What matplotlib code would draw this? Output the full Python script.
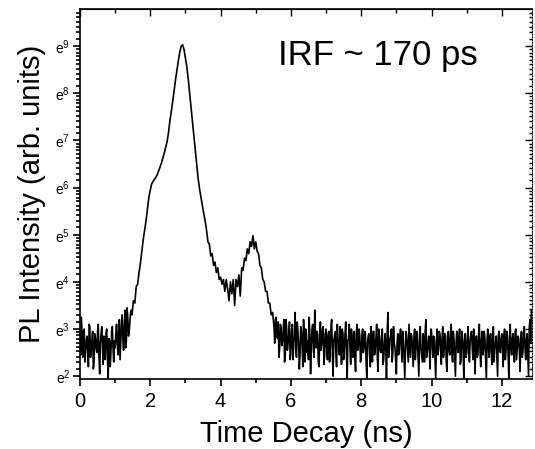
import numpy as np
import matplotlib
matplotlib.use("Agg")
import matplotlib.pyplot as plt
from matplotlib.ticker import LogLocator, FixedLocator, MultipleLocator, NullFormatter

plt.rcParams['font.family'] = ['Liberation Sans', 'DejaVu Sans']
plt.rcParams['mathtext.fontset'] = 'custom'
plt.rcParams['mathtext.rm'] = 'Liberation Sans'
plt.rcParams['mathtext.it'] = 'Liberation Sans'

# time axis step (ns) and ln(PL intensity), one row per ns
t_step = 0.04
ln_pl = [
    # 0 - 1 ns
    2.9, 3.25, 2.4, 3.0, 2.5, 2.85, 2.2, 3.05, 2.6, 2.95, 2.3, 2.8, 2.5, 3.1, 2.05, 2.9, 2.6, 2.85, 2.35, 3.0, 1.9, 2.75, 2.5, 3.05, 2.3,
    # 1 - 2 ns
    2.6, 3.1, 2.45, 3.2, 2.7, 3.3, 2.55, 3.4, 2.75, 3.25, 2.95, 3.35, 3.3, 3.6, 3.55, 3.9, 3.95, 4.2, 4.4, 4.65, 4.9, 5.1, 5.3, 5.55, 5.8,
    # 2 - 3 ns
    5.95, 6.08, 6.13, 6.18, 6.22, 6.28, 6.36, 6.44, 6.53, 6.63, 6.74, 6.86, 6.98, 7.18, 7.42, 7.63, 7.84, 8.07, 8.3, 8.5, 8.7, 8.88, 9.0, 9.03, 8.93,
    # 3 - 4 ns
    8.75, 8.56, 8.3, 8.0, 7.68, 7.38, 7.08, 6.78, 6.48, 6.2, 5.98, 5.8, 5.62, 5.45, 5.3, 5.1, 4.85, 4.8, 4.55, 4.6, 4.35, 4.42, 4.2, 4.3, 4.05,
    # 4 - 5 ns
    4.1, 3.95, 4.05, 3.8, 4.05, 3.85, 3.6, 4.0, 3.75, 4.05, 3.5, 4.05, 3.9, 4.15, 3.7, 4.3, 4.25, 4.5, 4.45, 4.7, 4.6, 4.85, 4.75, 4.98, 4.7,
    # 5 - 6 ns
    4.85, 4.65, 4.6, 4.35, 4.3, 4.05, 4.0, 3.8, 3.8, 3.55, 3.55, 3.3, 3.35, 3.05, 3.2, 2.85, 3.15, 2.6, 3.05, 2.75, 3.2, 2.45, 3.0, 2.7, 3.15,
    # 6 - 7 ns
    2.5, 3.1, 2.7, 3.35, 2.4, 2.95, 2.15, 3.05, 2.65, 3.2, 2.3, 2.9, 2.75, 3.25, 2.05, 3.0, 2.55, 3.4, 2.6, 2.9, 2.2, 3.15, 2.7, 3.05, 2.45,
    # 7 - 8 ns
    3.0, 2.35, 2.95, 2.6, 3.2, 2.0, 2.85, 2.5, 3.1, 2.7, 3.05, 2.25, 2.9, 2.55, 3.15, 1.95, 2.8, 2.6, 3.0, 2.4, 2.95, 2.1, 3.1, 2.65, 2.85,
    # 8 - 9 ns
    2.4, 3.0, 2.6, 2.9, 1.95, 2.85, 2.45, 3.05, 2.3, 2.95, 2.6, 3.1, 2.1, 2.8, 2.5, 3.0, 2.35, 2.9, 1.9, 3.35, 2.55, 2.85, 2.3, 3.05, 2.6,
    # 9 - 10 ns
    2.05, 2.9, 2.5, 3.0, 2.3, 2.8, 1.95, 2.95, 2.55, 3.1, 2.4, 2.85, 2.2, 3.0, 2.6, 2.75, 2.0, 3.05, 2.45, 2.9, 2.3, 3.2, 2.5, 2.85, 2.15,
    # 10 - 11 ns
    2.95, 2.4, 2.8, 1.95, 3.0, 2.55, 2.9, 2.25, 3.05, 2.6, 2.85, 2.1, 2.95, 2.45, 3.1, 2.3, 2.8, 2.0, 2.95, 2.5, 3.0, 2.35, 2.85, 1.95, 2.9,
    # 11 - 12 ns
    2.5, 3.05, 2.3, 2.9, 2.6, 3.0, 2.05, 2.85, 2.45, 3.1, 2.2, 2.95, 2.55, 2.8, 1.95, 3.0, 2.4, 2.9, 2.25, 3.05, 2.6, 2.85, 2.0, 2.95, 2.5,
    # 12 - 12.84 ns
    2.9, 2.2, 3.0, 2.55, 2.85, 1.95, 3.1, 2.45, 2.9, 2.3, 3.0, 2.6, 2.8, 2.1, 2.95, 2.5, 3.05, 2.35, 2.9, 2.0, 3.2, 3.4,
]

# extra in-between samples for the noisy background parts (start at 0.02 ns and 5.54 ns)
t_mid_a0 = 0.02
ln_mid_a = [
    2.45, 2.8, 2.95, 2.3, 2.75, 2.55, 3.1, 2.4, 2.75, 2.15, 2.9, 2.6, 2.95, 2.45, 2.7, 3.05, 2.25, 2.65, 2.9, 2.5, 2.8, 2.2, 2.95, 2.6, 2.75,
    2.9, 2.7, 2.95, 2.35, 3.1, 2.8, 3.05, 2.6, 3.45, 2.85, 3.15, 3.4,
]
t_mid_b0 = 5.54
ln_mid_b = [
    2.7, 3.25, 2.8, 2.4, 3.1, 2.65, 2.95, 2.3, 3.2, 2.55, 2.9, 2.35,
    2.95, 2.35, 2.85, 2.55, 3.15, 2.7, 2.45, 2.95, 2.2, 2.8, 3.0, 2.5, 2.35, 2.85, 2.65, 3.1, 2.4, 2.75, 2.95, 2.3, 2.85, 2.55, 3.0, 2.25, 2.9,
    2.6, 2.9, 2.3, 3.05, 2.5, 2.75, 2.95, 2.2, 2.8, 2.45, 2.7, 3.0, 2.35, 2.9, 2.5, 2.75, 3.1, 2.25, 2.85, 2.6, 2.4, 2.9, 2.55, 3.0, 2.3,
    2.85, 2.5, 2.95, 2.3, 2.7, 2.9, 2.2, 2.75, 2.95, 2.45, 2.8, 2.35, 3.0, 2.55, 2.85, 2.25, 2.7, 2.6, 2.95, 2.4, 2.8, 3.0, 2.5, 2.7, 2.35,
    2.7, 2.45, 2.85, 2.65, 2.95, 2.35, 2.6, 2.8, 2.3, 2.75, 2.9, 2.5, 2.8, 2.35, 2.95, 2.4, 2.85, 2.6, 2.3, 2.75, 2.95, 2.4, 2.7, 2.55, 3.0,
    2.65, 2.85, 2.35, 2.7, 2.45, 2.95, 2.6, 2.8, 2.4, 2.9, 2.3, 2.75, 2.55, 2.85, 2.5, 2.95, 2.4, 2.7, 2.6, 2.85, 2.25, 2.95, 2.55, 2.75, 2.4,
    2.8, 2.45, 2.75, 2.95, 2.35, 2.7, 2.8, 2.4, 2.9, 2.55, 2.75, 2.45, 2.95, 2.35, 2.75, 2.6, 2.85, 2.5, 2.95, 2.3, 2.7, 2.45, 2.85, 2.6, 2.8,
    2.6, 2.85, 2.35, 2.95, 2.45, 2.75, 2.6, 2.8, 2.5, 2.95, 2.35, 2.85, 2.55, 2.75, 2.4, 2.9, 2.6, 2.75, 2.45, 3.0, 2.7,
]

y_powers = [2, 3, 4, 5, 6, 7, 8, 9]
y_ticklabels = [r'$\mathrm{e}^{%d}$' % p for p in y_powers]
x_ticks = [0, 2, 4, 6, 8, 10, 12]

t_all = np.concatenate([np.arange(len(ln_pl)) * t_step,
                        t_mid_a0 + np.arange(len(ln_mid_a)) * t_step,
                        t_mid_b0 + np.arange(len(ln_mid_b)) * t_step])
ln_all = np.concatenate([ln_pl, ln_mid_a, ln_mid_b])
order = np.argsort(t_all)
t = t_all[order]
pl = np.exp(ln_all[order])

fig = plt.figure(figsize=(5.35, 4.49), dpi=100)
ax = fig.add_axes([0.1495, 0.157, 0.8443, 0.822])
ax.plot(t, pl, color='black', lw=1.2)

ax.set_yscale('log', base=np.e)
ax.set_ylim(np.exp(1.95), np.exp(9.78))
ax.set_xlim(0, 12.85)

minor_subs = 1 + (np.e - 1) * np.arange(1, 10) / 10
ax.yaxis.set_major_locator(FixedLocator(np.exp(y_powers)))
ax.set_yticklabels(y_ticklabels, fontsize=10)
ax.yaxis.set_minor_locator(LogLocator(base=np.e, subs=minor_subs, numticks=50))
ax.yaxis.set_minor_formatter(NullFormatter())

ax.set_xticks(x_ticks)
ax.xaxis.set_minor_locator(MultipleLocator(1))
ax.tick_params(axis='x', labelsize=14.5, pad=5)
ax.tick_params(axis='y', pad=2)

ax.tick_params(which='both', direction='out', width=1.2)
ax.tick_params(which='major', length=5)
ax.tick_params(which='minor', length=3)

# mirrored ticks on top / right, pointing inward
top = ax.secondary_xaxis('top')
top.set_xticks(x_ticks)
top.xaxis.set_minor_locator(MultipleLocator(1))
top.tick_params(which='both', direction='in', labeltop=False, width=1)
top.tick_params(which='major', length=5)
top.tick_params(which='minor', length=3)

right = ax.secondary_yaxis('right')
right.set_yscale('log', base=np.e)
right.yaxis.set_major_locator(FixedLocator(np.exp(y_powers)))
right.yaxis.set_minor_locator(LogLocator(base=np.e, subs=minor_subs, numticks=50))
right.tick_params(which='both', direction='in', labelright=False, width=1)
right.tick_params(which='major', length=5)
right.tick_params(which='minor', length=2)
right.spines['right'].set_linestyle((0, (1, 1.5)))
right.spines['right'].set_linewidth(0.8)

for s in ['left', 'bottom', 'top']:
    ax.spines[s].set_linewidth(1.2)
ax.spines['right'].set_visible(False)

ax.set_xlabel('Time Decay (ns)', fontsize=21, labelpad=6)
ax.set_ylabel('PL Intensity (arb. units)', fontsize=21, labelpad=7)

ax.text(0.438, 0.849, 'IRF ~ 170 ps', transform=ax.transAxes, fontsize=25, va='baseline', ha='left')

fig.savefig('out.png', dpi=100)
